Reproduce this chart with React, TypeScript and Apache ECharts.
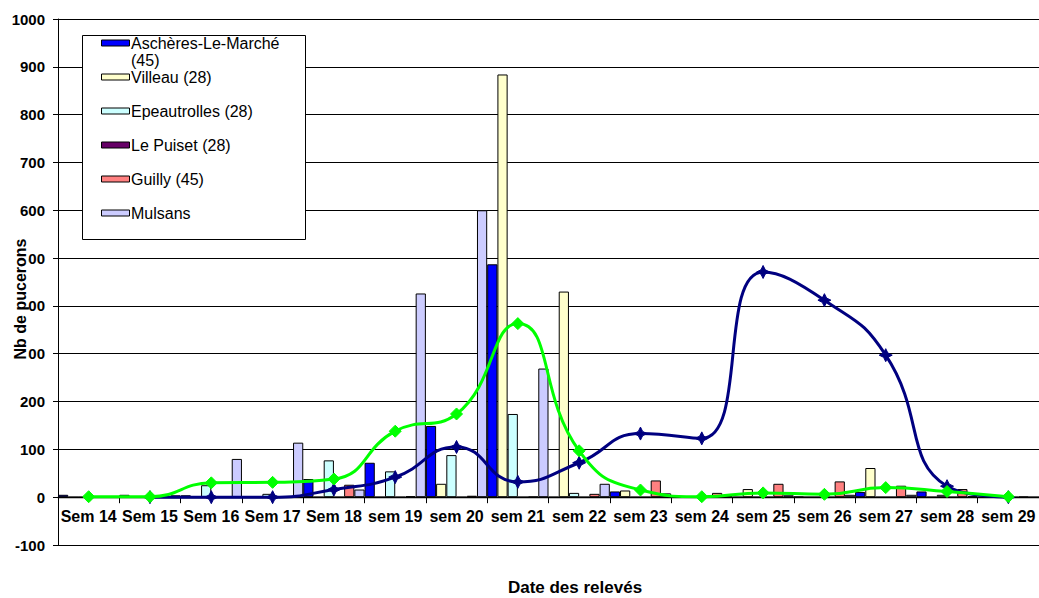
import React, { useEffect, useRef } from "react";
import * as echarts from "echarts";

const categories = [
  "Sem 14", "Sem 15", "Sem 16", "Sem 17", "Sem 18", "sem 19", "sem 20", "sem 21",
  "sem 22", "sem 23", "sem 24", "sem 25", "sem 26", "sem 27", "sem 28", "sem 29",
];

const yTickLabels = ["-100", "0", "100", "200", "300", "400", "500", "600", "700", "800", "900", "1000"];

const ascheres = [5, 5, 4, 0, 38, 72, 149, 487, 0, 12, 0, 0, 1, 11, 12, 0];
const villeau = [0, 0, 0, 0, 0, 0, 28, 884, 430, 14, 0, 17, 0, 61, 0, 0];
const epeautrolles = [0, 0, 25, 7, 77, 54, 88, 174, 9, 0, 0, 0, 0, 0, 5, 0];
const lePuiset = [0, 0, 0, 0, 0, 0, 0, 0, 0, 0, 0, 0, 0, 0, 0, 0];
const guilly = [0, 0, 0, 0, 26, 2, 3, 1, 7, 35, 9, 28, 33, 24, 17, 1];
const mulsans = [0, 4, 80, 114, 16, 426, 600, 269, 28, 8, 3, 4, 5, 5, 2, 0];

const navyLine = [null, 0, 0, 0, 16, 42, 105, 32, 72, 133, 123, 471, 412, 297, 23, 0];
const greenLine = [1, 1, 30, 31, 38, 138, 174, 363, 97, 15, 1, 9, 6, 20, 12, 1];

const barNames = [
  "Aschères-Le-Marché (45)",
  "Villeau (28)",
  "Epeautrolles (28)",
  "Le Puiset (28)",
  "Guilly (45)",
  "Mulsans",
];
const legendLabels = [
  "Aschères-Le-Marché\n(45)",
  "Villeau (28)",
  "Epeautrolles (28)",
  "Le Puiset (28)",
  "Guilly (45)",
  "Mulsans",
];
const barColors = ["#0000FF", "#FFFFCC", "#CCFFFF", "#660066", "#FF8080", "#CCCCFF"];
const barData = [ascheres, villeau, epeautrolles, lePuiset, guilly, mulsans];

const FONT = "'Liberation Sans', Arial, sans-serif";

export default function App() {
  const ref = useRef<HTMLDivElement>(null);

  useEffect(() => {
    if (!ref.current) return;
    const chart = echarts.init(ref.current, undefined, { renderer: "svg" });

    const barSeries = barData.map((d, i) => ({
      name: barNames[i],
      type: "bar",
      data: d,
      barGap: "0%",
      barCategoryGap: "0%",
      itemStyle: { color: barColors[i], borderColor: "#000", borderWidth: 1 },
      z: 2,
    }));

    const legendGraphics: any[] = [
      {
        type: "rect",
        shape: { x: 82.5, y: 35.5, width: 223, height: 204 },
        style: { fill: "#fff", stroke: "#000", lineWidth: 1 },
        z: 100,
      },
    ];
    const rowY = [43, 77, 111, 145, 179, 213];
    legendLabels.forEach((label, i) => {
      legendGraphics.push({
        type: "rect",
        shape: { x: 101.5, y: rowY[i] - 3, width: 28, height: 6 },
        style: { fill: barColors[i], stroke: "#000", lineWidth: 1 },
        z: 101,
      });
      legendGraphics.push({
        type: "text",
        x: 131,
        y: i === 0 ? rowY[i] - 8.5 : rowY[i],
        style: {
          text: label,
          fontSize: 16,
          fontFamily: FONT,
          fill: "#000",
          lineHeight: 17,
          verticalAlign: i === 0 ? "top" : "middle",
          align: "left",
        },
        z: 101,
      });
    });

    const option: any = {
      animation: false,
      backgroundColor: "#fff",
      grid: { left: 58, top: 19, width: 992, height: 526 },
      xAxis: {
        type: "category",
        data: categories,
        boundaryGap: true,
        position: "bottom",
        offset: -47.8,
        axisLine: { onZero: false, lineStyle: { color: "#000", width: 1.3 } },
        axisTick: { show: true, length: 6, lineStyle: { color: "#000" } },
        axisLabel: {
          interval: 0,
          color: "#000",
          fontSize: 16,
          fontWeight: "bold",
          fontFamily: FONT,
          margin: 11,
        },
        splitLine: { show: false },
      },
      yAxis: {
        type: "value",
        min: -100,
        max: 1000,
        interval: 100,
        axisLine: { show: true, lineStyle: { color: "#000", width: 1 } },
        axisTick: { show: true, length: 5, lineStyle: { color: "#000" } },
        axisLabel: {
          color: "#000",
          fontSize: 15,
          fontWeight: "bold",
          fontFamily: FONT,
          margin: 13,
          formatter: (v: number) => {
            const s = String(Math.round(v));
            return yTickLabels.indexOf(s) >= 0 ? s : "";
          },
        },
        splitLine: { show: true, lineStyle: { color: "#000", width: 1 } },
      },
      series: [
        ...barSeries,
        {
          name: "Moyenne (45)",
          type: "line",
          data: navyLine,
          smooth: 0.5,
          connectNulls: false,
          symbol: "path://M0 -6 L2 -2 L6 0 L2 2 L0 6 L-2 2 L-6 0 L-2 -2 Z",
          symbolSize: 13,
          showAllSymbol: true,
          lineStyle: { color: "#000080", width: 3 },
          itemStyle: { color: "#000080", borderColor: "#000080", borderWidth: 1 },
          z: 5,
        },
        {
          name: "Moyenne (28)",
          type: "line",
          data: greenLine,
          smooth: 0.5,
          symbol: "diamond",
          symbolSize: 12,
          showAllSymbol: true,
          lineStyle: { color: "#00FF00", width: 3 },
          itemStyle: { color: "#00FF00", borderColor: "#00FF00", borderWidth: 1 },
          z: 6,
        },
      ],
      graphic: [
        ...legendGraphics,
        {
          type: "text",
          x: 20,
          y: 299,
          rotation: Math.PI / 2,
          style: {
            text: "Nb de pucerons",
            fontSize: 16,
            fontWeight: "bold",
            fontFamily: FONT,
            fill: "#000",
            align: "center",
            verticalAlign: "middle",
            backgroundColor: "#fff",
          },
          z: 100,
        },
        {
          type: "text",
          x: 575,
          y: 587,
          style: {
            text: "Date des relevés",
            fontSize: 17,
            lineHeight: 17,
            fontWeight: "bold",
            fontFamily: FONT,
            fill: "#000",
            align: "center",
            verticalAlign: "middle",
          },
          z: 100,
        },
      ],
    };

    chart.setOption(option);
    return () => chart.dispose();
  }, []);

  return (
    <div
      ref={ref}
      style={{ position: "fixed", left: 0, top: 0, width: 1039, height: 598, background: "#fff" }}
    />
  );
}
